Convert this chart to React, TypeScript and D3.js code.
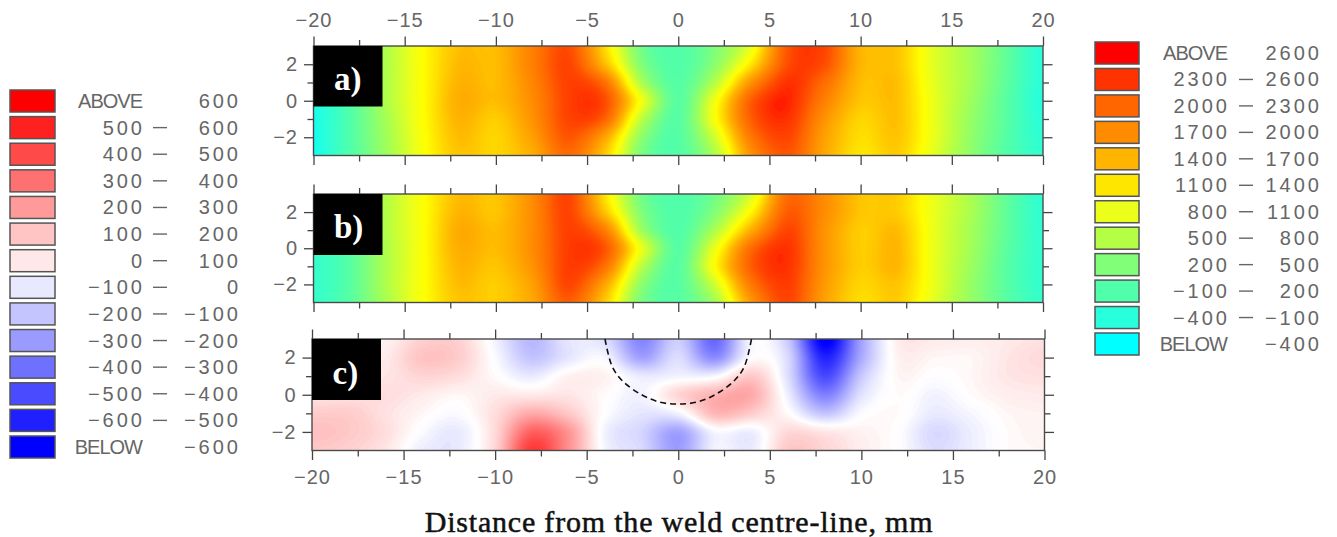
import React, { useEffect, useRef } from 'react';
import * as d3 from 'd3';

const width = 1337;
const height = 537;

// distance from the centre-line (mm) and through-thickness position of the grid nodes
const gridX = [-20, -18, -16, -14, -12, -10, -8, -6, -4, -2, 0, 2, 4, 6, 8, 10, 12, 14, 16, 18, 20];
const gridY = [3, 2, 1, 0, -1, -2, -3];

const panelA = [
  [-300, 100, 620, 1100, 1480, 1500, 1950, 2300, 1300, 250, 60, 330, 950, 2250, 2350, 1550, 1450, 900, 560, 150, -250],
  [-300, 100, 620, 1100, 1520, 1500, 1950, 2350, 1500, 350, 60, 400, 1250, 2300, 2300, 1550, 1450, 900, 560, 150, -250],
  [-300, 80, 620, 1100, 1560, 1500, 1900, 2380, 2050, 600, 80, 650, 1800, 2450, 2100, 1500, 1480, 920, 560, 130, -250],
  [-300, 60, 620, 1100, 1600, 1500, 1850, 2380, 2300, 1000, 100, 1000, 2200, 2500, 1950, 1450, 1480, 950, 520, 100, -270],
  [-320, 50, 570, 1090, 1560, 1400, 1800, 2360, 2150, 700, 90, 1050, 2200, 2450, 1800, 1350, 1480, 950, 480, 100, -250],
  [-330, 50, 540, 1070, 1500, 1350, 1700, 2250, 1650, 420, 80, 800, 2000, 2350, 1700, 1300, 1450, 950, 460, 80, -220],
  [-330, 40, 520, 1050, 1450, 1350, 1600, 2100, 1400, 300, 70, 600, 1800, 2250, 1650, 1250, 1400, 900, 430, 60, -180],
];

const panelB = [
  [-150, 150, 650, 1080, 1500, 1450, 1850, 2350, 1250, 250, 50, 250, 850, 2100, 1850, 1450, 1400, 950, 600, 150, -200],
  [-150, 150, 650, 1080, 1550, 1450, 1850, 2350, 1450, 350, 50, 350, 1150, 2200, 1850, 1450, 1400, 950, 600, 150, -200],
  [-150, 130, 650, 1080, 1620, 1500, 1850, 2380, 1950, 520, 60, 600, 1600, 2350, 1800, 1400, 1500, 950, 560, 150, -200],
  [-150, 100, 620, 1080, 1600, 1500, 1850, 2400, 2250, 950, 90, 950, 2100, 2450, 1800, 1400, 1530, 950, 560, 120, -180],
  [-150, 100, 620, 1080, 1550, 1450, 1800, 2400, 2050, 680, 100, 1100, 2200, 2450, 1800, 1400, 1530, 950, 520, 100, -180],
  [-150, 100, 620, 1080, 1500, 1400, 1700, 2350, 1650, 420, 100, 800, 2000, 2400, 1750, 1350, 1450, 950, 480, 100, -180],
  [-150, 100, 600, 1070, 1450, 1400, 1650, 2200, 1400, 300, 90, 550, 1750, 2350, 1700, 1300, 1400, 900, 480, 100, -150],
];

const panelC = [
  [40, 40, 30, 110, 110, -30, -170, -60, -80, -290, -120, -360, -20, -130, -620, -220, 40, 50, 40, 50, 70],
  [60, 60, 50, 140, 120, -10, -140, -60, -20, -220, -80, -270, 0, -90, -520, -200, 30, 20, 20, 60, 90],
  [60, 60, 60, 100, 80, 10, -50, 30, 30, -50, -30, -20, 130, -80, -430, -130, 20, 0, 20, 60, 70],
  [60, 70, 80, 50, 20, 50, 50, 60, 10, -30, 100, 180, 200, -40, -300, -70, 10, -30, 10, 40, 50],
  [120, 120, 70, 20, -10, 80, 200, 130, 0, -60, -30, 170, 120, 10, -140, -10, 10, -50, -20, 20, 30],
  [150, 130, 80, -10, -50, 90, 370, 250, -30, -100, -220, -20, -40, 90, 60, 30, 0, -90, -40, 10, 30],
  [130, 110, 60, -40, -50, 100, 470, 260, -20, -90, -230, -30, -50, 130, 100, 40, 0, -80, -40, 10, 20],
];

// dashed boundary of the weld pool in panel c
const weldX = [-4, -3.6, -3, -2, -1, 0, 1, 2, 3, 3.6, 4];
const weldY = [3, 1.5, 0.7, 0, -0.4, -0.5, -0.4, 0, 0.7, 1.5, 3];

const tempStops = [-400, -250, 50, 350, 650, 950, 1100, 1250, 1550, 1850, 2150, 2450, 2600];
const tempColors = ['#00ffff', '#28ffdc', '#50ffaa', '#82ff78', '#b4ff46', '#ecff1a', '#ffff00', '#ffe600', '#ffb400', '#ff8c00', '#ff6600', '#ff3300', '#ff0000'];
const diffStops = [-600, 0, 600];
const diffColors = ['#0000ff', '#ffffff', '#ff0000'];

const leftFrom = ['ABOVE', '500', '400', '300', '200', '100', '0', '\u2212100', '\u2212200', '\u2212300', '\u2212400', '\u2212500', '\u2212600', 'BELOW'];
const leftTo = ['600', '600', '500', '400', '300', '200', '100', '0', '\u2212100', '\u2212200', '\u2212300', '\u2212400', '\u2212500', '\u2212600'];
const leftSwatches = ['#ff0000', '#ff2020', '#ff4a4a', '#ff7070', '#ff9a9a', '#ffc4c4', '#ffe8e8', '#e8e8ff', '#c4c4ff', '#9a9aff', '#7070ff', '#4a4aff', '#2020ff', '#0000ff'];

const rightFrom = ['ABOVE', '2300', '2000', '1700', '1400', '1100', '800', '500', '200', '\u2212100', '\u2212400', 'BELOW'];
const rightTo = ['2600', '2600', '2300', '2000', '1700', '1400', '1100', '800', '500', '200', '\u2212100', '\u2212400'];
const rightSwatches = ['#ff0000', '#ff3300', '#ff6600', '#ff8c00', '#ffb400', '#ffe600', '#ecff1a', '#b4ff46', '#82ff78', '#50ffaa', '#28ffdc', '#00ffff'];

const textColor = '#666';
const labelFont = '"Liberation Sans", sans-serif';

const catmull = (p0, p1, p2, p3, t) =>
  0.5 * (2 * p1 + (p2 - p0) * t + (2 * p0 - 5 * p1 + 4 * p2 - p3) * t * t + (3 * p1 - p0 - 3 * p2 + p3) * t * t * t);

// smooth the node values onto a fine grid so d3.contours gives clean bands
const upsample = (grid, nx, ny) => {
  const rows = grid.length;
  const cols = grid[0].length;
  const out = new Float64Array(nx * ny);
  const at = (r, c) => grid[Math.max(0, Math.min(rows - 1, r))][Math.max(0, Math.min(cols - 1, c))];
  for (let j = 0; j < ny; j++) {
    const v = ((j + 0.5) / ny) * (rows - 1);
    const r = Math.min(rows - 2, Math.floor(v));
    const tv = v - r;
    for (let i = 0; i < nx; i++) {
      const u = ((i + 0.5) / nx) * (cols - 1);
      const c = Math.min(cols - 2, Math.floor(u));
      const tu = u - c;
      const across = [-1, 0, 1, 2].map(d => catmull(at(r + d, c - 1), at(r + d, c), at(r + d, c + 1), at(r + d, c + 2), tu));
      out[j * nx + i] = catmull(across[0], across[1], across[2], across[3], tv);
    }
  }
  return out;
};

const panels = [
  { name: 'a)', grid: panelA, left: 313.5, right: 1043, top: 46, bottom: 155.5, boxRight: 382.5, boxBottom: 106.5, labelY: 90, stops: tempStops, colors: tempColors, step: 25, min: -600, max: 2800, topLabels: true, bottomLabels: false },
  { name: 'b)', grid: panelB, left: 313.5, right: 1043, top: 194, bottom: 302.5, boxRight: 382.5, boxBottom: 255, labelY: 238, stops: tempStops, colors: tempColors, step: 25, min: -600, max: 2800, topLabels: false, bottomLabels: false },
  { name: 'c)', grid: panelC, left: 312, right: 1044.5, top: 339, bottom: 450.5, boxRight: 381, boxBottom: 400, labelY: 384, stops: diffStops, colors: diffColors, step: 10, min: -800, max: 800, topLabels: false, bottomLabels: true },
];

const App = () => {
  const svgRef = useRef(null);

  useEffect(() => {
    const svg = d3.select(svgRef.current);
    svg.selectAll('*').remove();

    panels.forEach(p => {
      const x = d3.scaleLinear().domain([-20, 20]).range([p.left, p.right]);
      const y = d3.scaleLinear().domain([3, -3]).range([p.top, p.bottom]);
      const color = d3.scaleLinear().domain(p.stops).range(p.colors).clamp(true);
      const g = svg.append('g');

      // filled contour bands
      const nx = 366;
      const ny = 56;
      const sx = d3.scaleLinear().domain([0, nx]).range([x(gridX[0]), x(gridX[gridX.length - 1])]);
      const sy = d3.scaleLinear().domain([0, ny]).range([y(gridY[0]), y(gridY[gridY.length - 1])]);
      const path = d3.geoPath(
        d3.geoTransform({
          point(px, py) {
            this.stream.point(sx(px), sy(py));
          },
        })
      );
      const values = upsample(p.grid, nx, ny);
      const thresholds = d3.range(p.min, p.max, p.step);
      const bands = d3.contours().size([nx, ny]).thresholds(thresholds)(values);
      g.selectAll('path.band')
        .data(bands.filter(b => b.coordinates.length > 0))
        .enter()
        .append('path')
        .attr('class', 'band')
        .attr('d', path)
        .attr('fill', d => color(d.value + p.step / 2));

      // tick marks on all four sides
      const xTicks = d3.range(-20, 20.1, 2.5);
      const yTicks = [-2, -1, 0, 1, 2];
      const styleAxis = (axis, isMajor, horizontal, dir) => {
        axis.select('.domain').remove();
        axis.selectAll('.tick line')
          .attr('stroke', '#444')
          .attr('stroke-width', 1.3)
          .attr(horizontal ? 'y2' : 'x2', d => dir * (isMajor(d) ? 9.5 : 6));
        axis.selectAll('.tick text')
          .attr('fill', textColor)
          .style('font-family', labelFont)
          .style('font-size', '20px')
          .style('letter-spacing', '1px');
      };
      const xMajor = d => d % 5 === 0;
      const yMajor = d => d % 2 === 0;
      const xFormat = d => (xMajor(d) ? String(d).replace('-', '\u2212') : '');

      const top = g.append('g').attr('transform', `translate(0,${p.top})`)
        .call(d3.axisTop(x).tickValues(xTicks).tickSize(9.5).tickPadding(10).tickFormat(p.topLabels ? xFormat : () => ''));
      styleAxis(top, xMajor, true, -1);
      const bottom = g.append('g').attr('transform', `translate(0,${p.bottom})`)
        .call(d3.axisBottom(x).tickValues(xTicks).tickSize(9.5).tickPadding(10).tickFormat(p.bottomLabels ? xFormat : () => ''));
      styleAxis(bottom, xMajor, true, 1);
      const left = g.append('g').attr('transform', `translate(${p.left},0)`)
        .call(d3.axisLeft(y).tickValues(yTicks).tickSize(9.5).tickPadding(6)
          .tickFormat(d => (yMajor(d) ? String(d).replace('-', '\u2212') : '')));
      styleAxis(left, yMajor, false, -1);
      const right = g.append('g').attr('transform', `translate(${p.right},0)`)
        .call(d3.axisRight(y).tickValues(yTicks).tickSize(9.5).tickFormat(() => ''));
      styleAxis(right, yMajor, false, 1);

      // frame
      g.append('rect')
        .attr('x', p.left)
        .attr('y', p.top)
        .attr('width', p.right - p.left)
        .attr('height', p.bottom - p.top)
        .attr('fill', 'none')
        .attr('stroke', '#4a4a4a')
        .attr('stroke-width', 1.4);

      // weld boundary, panel c only
      if (p.name === 'c)') {
        const weld = d3.line().x(d => x(d[0])).y(d => y(d[1])).curve(d3.curveCatmullRom);
        g.append('path')
          .datum(weldX.map((d, i) => [d, weldY[i]]))
          .attr('d', weld)
          .attr('fill', 'none')
          .attr('stroke', '#111')
          .attr('stroke-width', 1.6)
          .attr('stroke-dasharray', '6 4');
      }

      // black panel tag
      g.append('rect')
        .attr('x', p.left)
        .attr('y', p.top)
        .attr('width', p.boxRight - p.left)
        .attr('height', p.boxBottom - p.top)
        .attr('fill', '#000');
      g.append('text')
        .attr('x', p.left + 20.5)
        .attr('y', p.labelY)
        .attr('fill', '#fff')
        .style('font-family', '"Liberation Serif", serif')
        .style('font-weight', 'bold')
        .style('font-size', '33px')
        .text(p.name);
    });

    // colour legends
    const drawLegend = (from, to, swatches, o) => {
      const rowY = d3.scaleLinear().domain([0, from.length - 1]).range([o.y0, o.y1]);
      const g = svg.append('g');
      const rows = g.selectAll('g').data(from).enter().append('g')
        .attr('transform', (d, i) => `translate(0,${rowY(i)})`);
      rows.append('rect')
        .attr('x', o.x)
        .attr('y', -11)
        .attr('width', o.w)
        .attr('height', 22)
        .attr('fill', (d, i) => swatches[i])
        .attr('stroke', '#555')
        .attr('stroke-width', 1.5);
      const label = sel => sel
        .attr('y', 7)
        .attr('fill', textColor)
        .style('font-family', labelFont)
        .style('font-size', '20px');
      rows.append('text').call(label)
        .attr('x', d => (/[A-Z]/.test(d) ? o.col1 : o.col1 + 3))
        .attr('text-anchor', 'end')
        .style('letter-spacing', d => (/[A-Z]/.test(d) ? '-1px' : '3px'))
        .text(d => d);
      rows.append('text').call(label)
        .attr('x', o.col2 + 3)
        .attr('text-anchor', 'end')
        .style('letter-spacing', '3px')
        .text((d, i) => to[i]);
      rows.filter(d => !/[A-Z]/.test(d)).append('line')
        .attr('x1', o.dash)
        .attr('x2', o.dash + 14)
        .attr('y1', 0)
        .attr('y2', 0)
        .attr('stroke', textColor)
        .attr('stroke-width', 1.4);
    };
    drawLegend(leftFrom, leftTo, leftSwatches, { x: 10, w: 45, y0: 101, y1: 447, col1: 142, col2: 238, dash: 153 });
    drawLegend(rightFrom, rightTo, rightSwatches, { x: 1095, w: 44, y0: 53, y1: 344, col1: 1227, col2: 1319, dash: 1239 });

    svg.append('text')
      .attr('x', 679)
      .attr('y', 532)
      .attr('text-anchor', 'middle')
      .attr('fill', '#111')
      .style('font-family', '"Liberation Serif", serif')
      .style('font-size', '30px')
      .style('letter-spacing', '0.8px')
      .style('stroke', '#111')
      .style('stroke-width', '0.5px')
      .text('Distance from the weld centre-line, mm');
  }, []);

  return (
    <svg
      ref={svgRef}
      width={width}
      height={height}
      style={{ position: 'absolute', left: 0, top: 0, background: '#fff' }}
    />
  );
};

export default App;
